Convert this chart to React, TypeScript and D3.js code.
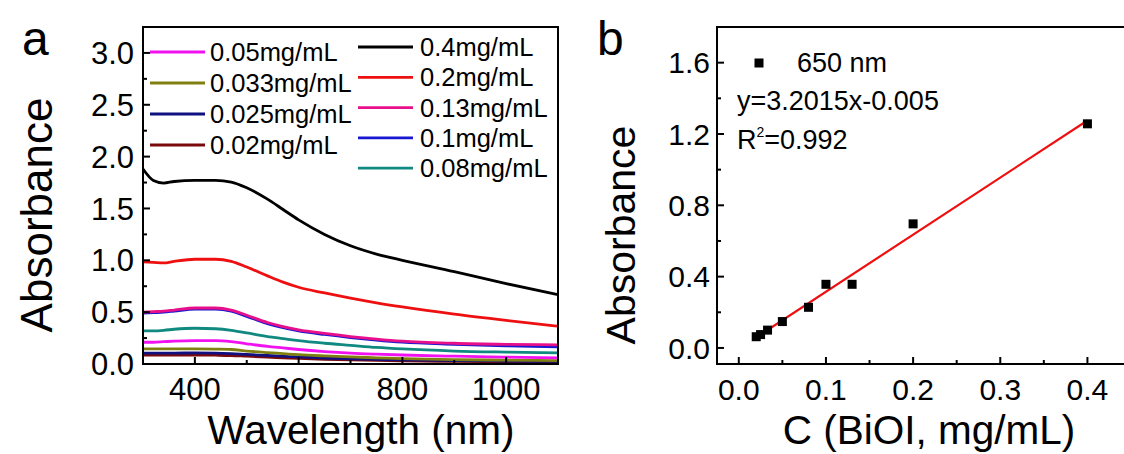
import React from "react";
import * as d3 from "d3";

// ---------- Panel a data ----------
const wavelengths = [300, 320, 340, 360, 400, 440, 470, 500, 540, 570, 600, 650, 700, 750, 800, 900, 1000, 1100];
const abs040 = [1.88, 1.77, 1.745, 1.76, 1.77, 1.77, 1.755, 1.7, 1.59, 1.49, 1.39, 1.25, 1.14, 1.06, 1.0, 0.89, 0.775, 0.668];
const abs020 = [0.985, 0.98, 0.975, 0.99, 1.01, 1.01, 0.99, 0.935, 0.85, 0.79, 0.74, 0.685, 0.635, 0.59, 0.55, 0.48, 0.42, 0.365];
const abs013 = [0.5, 0.505, 0.51, 0.52, 0.54, 0.54, 0.52, 0.47, 0.4, 0.36, 0.33, 0.295, 0.265, 0.24, 0.22, 0.2, 0.19, 0.185];
const abs010 = [0.49, 0.495, 0.5, 0.51, 0.53, 0.53, 0.51, 0.46, 0.39, 0.35, 0.32, 0.285, 0.255, 0.23, 0.21, 0.19, 0.175, 0.165];
const abs008 = [0.32, 0.32, 0.325, 0.335, 0.345, 0.34, 0.325, 0.3, 0.265, 0.245, 0.225, 0.2, 0.18, 0.16, 0.145, 0.125, 0.115, 0.108];
const abs005 = [0.21, 0.21, 0.215, 0.22, 0.225, 0.225, 0.215, 0.195, 0.17, 0.155, 0.14, 0.12, 0.105, 0.095, 0.087, 0.075, 0.066, 0.06];
const abs0033 = [0.145, 0.145, 0.145, 0.145, 0.145, 0.143, 0.14, 0.125, 0.11, 0.1, 0.09, 0.078, 0.068, 0.06, 0.052, 0.043, 0.037, 0.033];
const abs0025 = [0.105, 0.105, 0.105, 0.105, 0.107, 0.105, 0.1, 0.092, 0.082, 0.075, 0.068, 0.058, 0.05, 0.044, 0.04, 0.033, 0.028, 0.025];
const abs002 = [0.085, 0.085, 0.085, 0.085, 0.087, 0.085, 0.082, 0.075, 0.066, 0.06, 0.054, 0.046, 0.04, 0.035, 0.031, 0.025, 0.021, 0.018];

const seriesA = [
  { label: "0.02mg/mL", color: "#7a0a0a", values: abs002 },
  { label: "0.025mg/mL", color: "#101080", values: abs0025 },
  { label: "0.033mg/mL", color: "#808010", values: abs0033 },
  { label: "0.05mg/mL", color: "#f010f0", values: abs005 },
  { label: "0.08mg/mL", color: "#108a80", values: abs008 },
  { label: "0.1mg/mL", color: "#1818d0", values: abs010 },
  { label: "0.13mg/mL", color: "#e8108a", values: abs013 },
  { label: "0.2mg/mL", color: "#ee1010", values: abs020 },
  { label: "0.4mg/mL", color: "#000000", values: abs040 },
];
const legendCol1 = ["0.05mg/mL", "0.033mg/mL", "0.025mg/mL", "0.02mg/mL"];
const legendCol2 = ["0.4mg/mL", "0.2mg/mL", "0.13mg/mL", "0.1mg/mL", "0.08mg/mL"];

const xTicksA = [400, 600, 800, 1000];
const xMinorA = [400, 500, 600, 700, 800, 900, 1000];
const yTicksA = [0, 0.5, 1.0, 1.5, 2.0, 2.5, 3.0];
const yMinorA = [0.25, 0.75, 1.25, 1.75, 2.25, 2.75];

// ---------- Panel b data ----------
const conc = [0.02, 0.025, 0.033, 0.05, 0.08, 0.1, 0.13, 0.2, 0.4];
const abs650 = [0.063, 0.075, 0.1, 0.148, 0.228, 0.357, 0.357, 0.696, 1.257];
const fitSlope = 3.2015;
const fitIntercept = -0.005;
const xTicksB = [0, 0.1, 0.2, 0.3, 0.4];
const xMinorB = [0.05, 0.15, 0.25, 0.35];
const yTicksB = [0, 0.4, 0.8, 1.2, 1.6];
const yMinorB = [0.2, 0.6, 1.0, 1.4];

const FONT = "'Liberation Sans', Arial, sans-serif";

export default function App() {
  // Panel a geometry
  const aL = 143, aR = 558, aT = 27, aB = 364;
  const xA = d3.scaleLinear().domain([300, 1100]).range([aL, aR]);
  const yA = d3.scaleLinear().domain([0, 3.25]).range([aB, aT]);
  const lineA = d3
    .line<number>()
    .x((_, i) => xA(wavelengths[i]))
    .y((v) => yA(v))
    .curve(d3.curveMonotoneX);

  // Panel b geometry
  const bL = 717, bR = 1131, bT = 27, bB = 364;
  const xB = d3.scaleLinear().domain([-0.025, 0.45]).range([bL, bR]);
  const yB = d3.scaleLinear().domain([-0.09, 1.8]).range([bB, bT]);
  const fitX = [conc[0], conc[conc.length - 1]];

  const colorOf = (lab: string) => seriesA.find((s) => s.label === lab)!.color;

  return (
    <svg width={1124} height={454} style={{ display: "block", position: "absolute", left: 0, top: 0, background: "#fff" }} fontFamily={FONT}>
      <rect x={0} y={0} width={1124} height={454} fill="#fff" />
      {/* ===== Panel a ===== */}
      <text x={22} y={55} fontSize={48}>a</text>
      {seriesA.map((s) => (
        <path key={s.label} d={lineA(s.values) || ""} fill="none" stroke={s.color} strokeWidth={2.8} />
      ))}
      {/* legend */}
      {legendCol1.map((lab, i) => (
        <g key={lab}>
          <line x1={150} x2={205} y1={52 + i * 31} y2={52 + i * 31} stroke={colorOf(lab)} strokeWidth={2.8} />
          <text x={210} y={52 + i * 31} dy="0.35em" fontSize={25.5}>{lab}</text>
        </g>
      ))}
      {legendCol2.map((lab, i) => (
        <g key={lab}>
          <line x1={358} x2={413} y1={47 + i * 30.3} y2={47 + i * 30.3} stroke={colorOf(lab)} strokeWidth={2.8} />
          <text x={420} y={47 + i * 30.3} dy="0.35em" fontSize={25.5}>{lab}</text>
        </g>
      ))}
      {/* ticks */}
      {xMinorA.map((t) => (
        <line key={"xm" + t} x1={xA(t)} x2={xA(t)} y1={aB} y2={aB - (xTicksA.includes(t) ? 7 : 4)} stroke="#000" strokeWidth={2} />
      ))}
      {yTicksA.map((t) => (
        <line key={"ym" + t} x1={aL} x2={aL + 7} y1={yA(t)} y2={yA(t)} stroke="#000" strokeWidth={2} />
      ))}
      {yMinorA.map((t) => (
        <line key={"yn" + t} x1={aL} x2={aL + 4} y1={yA(t)} y2={yA(t)} stroke="#000" strokeWidth={2} />
      ))}
      <rect x={aL} y={aT} width={aR - aL} height={aB - aT} fill="none" stroke="#000" strokeWidth={2} />
      {xTicksA.map((t) => (
        <text key={"xl" + t} x={xA(t)} y={400} textAnchor="middle" fontSize={31}>{t}</text>
      ))}
      {yTicksA.map((t) => (
        <text key={"yl" + t} x={134} y={yA(t)} dy="0.36em" textAnchor="end" fontSize={31}>{t.toFixed(1)}</text>
      ))}
      <text x={361} y={444} textAnchor="middle" fontSize={40.5}>Wavelength (nm)</text>
      <text transform={`translate(52,215) rotate(-90)`} textAnchor="middle" fontSize={44}>Absorbance</text>

      {/* ===== Panel b ===== */}
      <text x={597} y={55} fontSize={48}>b</text>
      <line x1={xB(fitX[0])} x2={xB(fitX[1])} y1={yB(fitSlope * fitX[0] + fitIntercept)} y2={yB(fitSlope * fitX[1] + fitIntercept)} stroke="#ee1010" strokeWidth={2.2} />
      {conc.map((c, i) => (
        <rect key={"p" + i} x={xB(c) - 4.5} y={yB(abs650[i]) - 4.5} width={9} height={9} fill="#000" />
      ))}
      {xTicksB.map((t) => (
        <line key={"bx" + t} x1={xB(t)} x2={xB(t)} y1={bB} y2={bB - 7} stroke="#000" strokeWidth={2} />
      ))}
      {xMinorB.map((t) => (
        <line key={"bxm" + t} x1={xB(t)} x2={xB(t)} y1={bB} y2={bB - 4} stroke="#000" strokeWidth={2} />
      ))}
      {yTicksB.map((t) => (
        <line key={"by" + t} x1={bL} x2={bL + 7} y1={yB(t)} y2={yB(t)} stroke="#000" strokeWidth={2} />
      ))}
      {yMinorB.map((t) => (
        <line key={"bym" + t} x1={bL} x2={bL + 4} y1={yB(t)} y2={yB(t)} stroke="#000" strokeWidth={2} />
      ))}
      <rect x={bL} y={bT} width={bR - bL} height={bB - bT} fill="none" stroke="#000" strokeWidth={2} />
      {xTicksB.map((t) => (
        <text key={"bxl" + t} x={xB(t)} y={400} textAnchor="middle" fontSize={30}>{t.toFixed(1)}</text>
      ))}
      {yTicksB.map((t) => (
        <text key={"byl" + t} x={710} y={yB(t)} dy="0.36em" textAnchor="end" fontSize={30}>{t.toFixed(1)}</text>
      ))}
      <rect x={754.5} y={58.5} width={9} height={9} fill="#000" />
      <text x={797} y={63} dy="0.35em" fontSize={27}>650 nm</text>
      <text x={737} y={101} dy="0.35em" fontSize={27}>y=3.2015x-0.005</text>
      <text x={737} y={140} dy="0.35em" fontSize={27}>
        R<tspan fontSize={14} dy="-0.9em">2</tspan><tspan dy="0.45em">=0.992</tspan>
      </text>
      <text x={929} y={444} textAnchor="middle" fontSize={40.5}>C (BiOI, mg/mL)</text>
      <text transform={`translate(635,235) rotate(-90)`} textAnchor="middle" fontSize={41}>Absorbance</text>
    </svg>
  );
}
